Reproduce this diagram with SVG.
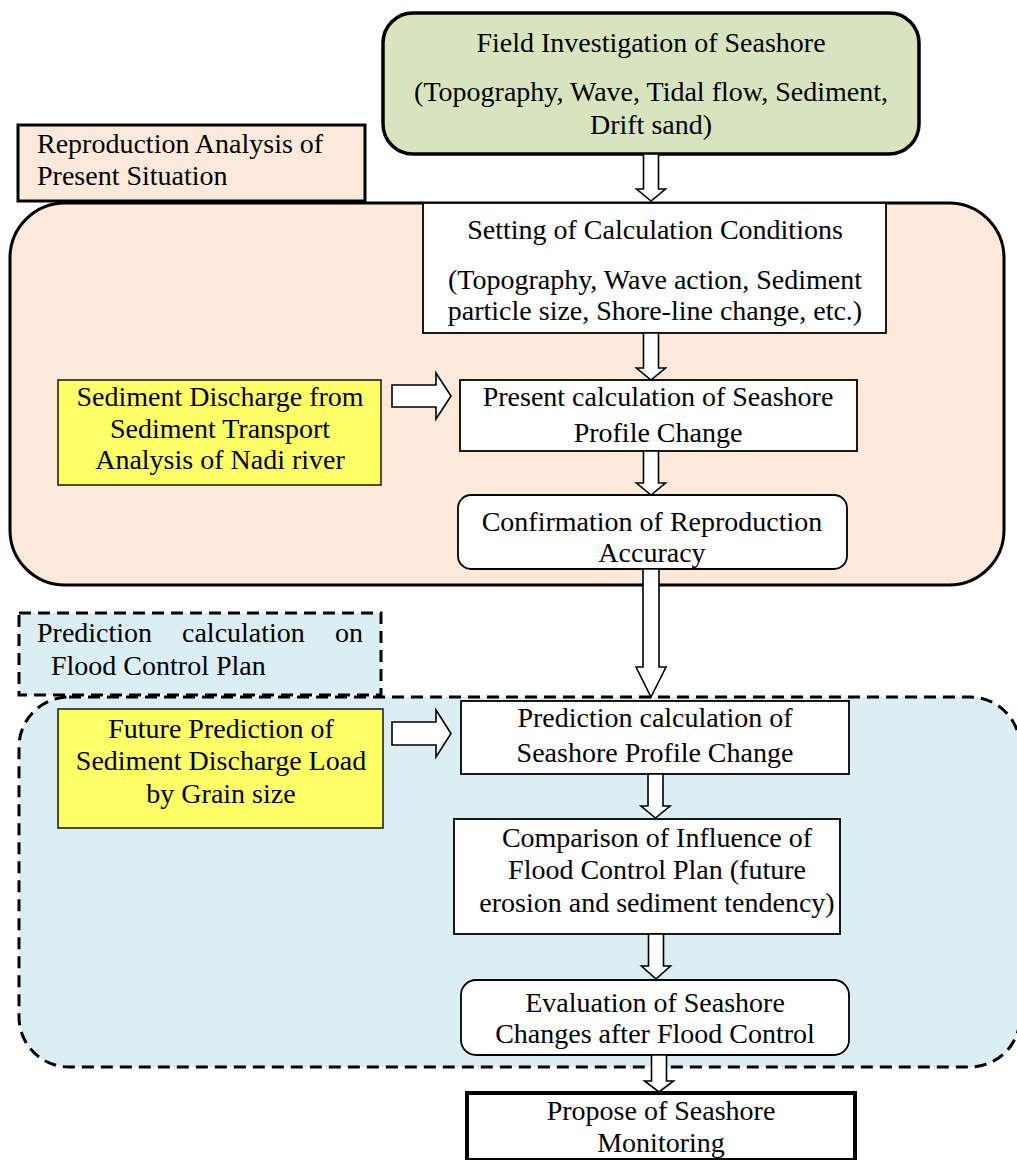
<svg xmlns="http://www.w3.org/2000/svg" width="1017" height="1160" viewBox="0 0 1017 1160">
<style>
text{font-family:"Liberation Serif","Times New Roman",serif;font-size:28px;fill:#000}
.c{text-anchor:middle}
.box{fill:#fff;stroke:#000;stroke-width:1.8}
.yel{fill:#ffff66;stroke:#222;stroke-width:1.6}
.arr{fill:#fff;stroke:#000;stroke-width:1.6;stroke-linejoin:miter}
.dash{stroke:#000;stroke-width:3;stroke-dasharray:12 7}
</style>
<rect width="1017" height="1160" fill="#fff"/>
<g id="region-reproduction">
<rect x="10" y="203" width="994" height="382" rx="55" ry="55" fill="#fde9d9" stroke="#000" stroke-width="3"/>
</g>
<g id="label-reproduction">
<rect x="18" y="125" width="347" height="76" fill="#fde9d9" stroke="#000" stroke-width="3"/>
<text x="37" y="153">Reproduction Analysis of</text>
<text x="37" y="185">Present Situation</text>
</g>
<g id="region-prediction">
<rect x="19" y="697" width="1001" height="370" rx="50" ry="50" fill="#daeef3" class="dash"/>
</g>
<g id="label-prediction">
<rect x="19" y="613" width="362" height="82" fill="#daeef3" class="dash"/>
<text x="37" y="642">Prediction</text>
<text x="182" y="642">calculation</text>
<text x="335" y="642">on</text>
<text x="51" y="675">Flood Control Plan</text>
</g>
<g id="field-investigation">
<rect x="383" y="13" width="536" height="141" rx="30" ry="30" fill="#d7e4bd" stroke="#000" stroke-width="3.5"/>
<text class="c" x="651" y="52">Field Investigation of Seashore</text>
<text class="c" x="651" y="101">(Topography, Wave, Tidal flow, Sediment,</text>
<text class="c" x="651" y="134">Drift sand)</text>
</g>
<g id="setting-conditions">
<rect class="box" x="423" y="203" width="463" height="130"/>
<text class="c" x="655" y="239">Setting of Calculation Conditions</text>
<text class="c" x="655" y="289">(Topography, Wave action, Sediment</text>
<text class="c" x="655" y="320">particle size, Shore-line change, etc.)</text>
</g>
<g id="sediment-discharge">
<rect class="yel" x="58" y="380" width="323" height="105"/>
<text class="c" x="220" y="406">Sediment Discharge from</text>
<text class="c" x="220" y="438">Sediment Transport</text>
<text class="c" x="220" y="469">Analysis of Nadi river</text>
</g>
<g id="present-calculation">
<rect class="box" x="460" y="380" width="397" height="71"/>
<text class="c" x="658" y="406">Present calculation of Seashore</text>
<text class="c" x="658" y="442">Profile Change</text>
</g>
<g id="confirmation">
<rect class="box" x="458" y="495" width="389" height="74" rx="13" ry="13"/>
<text class="c" x="652" y="531">Confirmation of Reproduction</text>
<text class="c" x="652" y="562">Accuracy</text>
</g>
<g id="future-prediction">
<rect class="yel" x="58" y="709" width="325" height="119"/>
<text class="c" x="221" y="738">Future Prediction of</text>
<text class="c" x="221" y="770">Sediment Discharge Load</text>
<text class="c" x="221" y="803">by Grain size</text>
</g>
<g id="prediction-calculation">
<rect class="box" x="461" y="701" width="388" height="73"/>
<text class="c" x="655" y="727">Prediction calculation of</text>
<text class="c" x="655" y="762">Seashore Profile Change</text>
</g>
<g id="comparison">
<rect class="box" x="454" y="819" width="386" height="115"/>
<text class="c" x="657" y="847">Comparison of Influence of</text>
<text class="c" x="657" y="879">Flood Control Plan (future</text>
<text class="c" x="657" y="912">erosion and sediment tendency)</text>
</g>
<g id="evaluation">
<rect class="box" x="461" y="980" width="388" height="75" rx="15" ry="15"/>
<text class="c" x="655" y="1012">Evaluation of Seashore</text>
<text class="c" x="655" y="1043">Changes after Flood Control</text>
</g>
<g id="propose-monitoring">
<rect x="467" y="1093" width="388" height="67" fill="#fff" stroke="#000" stroke-width="4"/>
<text class="c" x="661" y="1120">Propose of Seashore</text>
<text class="c" x="661" y="1152">Monitoring</text>
</g>
<g id="connectors">
<path class="arr" d="M643.5,154 L658.5,154 L658.5,189 L665.5,189 L651,201 L636.5,189 L643.5,189 Z"/>
<path class="arr" d="M643.5,333 L658.5,333 L658.5,368 L665.5,368 L651,380 L636.5,368 L643.5,368 Z"/>
<path class="arr" d="M643.5,451 L658.5,451 L658.5,483 L665.5,483 L651,495 L636.5,483 L643.5,483 Z"/>
<path class="arr" d="M643,569 L659,569 L659,667 L666,667 L651,697 L636,667 L643,667 Z"/>
<path class="arr" d="M648,774 L663,774 L663,806 L670,806 L655.5,818 L641,806 L648,806 Z"/>
<path class="arr" d="M648.5,934 L663.5,934 L663.5,966 L670.5,966 L656,979 L641.5,966 L648.5,966 Z"/>
<path class="arr" d="M651.5,1055 L666.5,1055 L666.5,1081 L673.5,1081 L659,1092 L644.5,1081 L651.5,1081 Z"/>
<path class="arr" d="M392,385 L436,385 L436,373 L451,396 L436,419 L436,407 L392,407 Z"/>
<path class="arr" d="M392,722 L436,722 L436,710 L451,733.5 L436,757 L436,745 L392,745 Z"/>
</g>
</svg>
